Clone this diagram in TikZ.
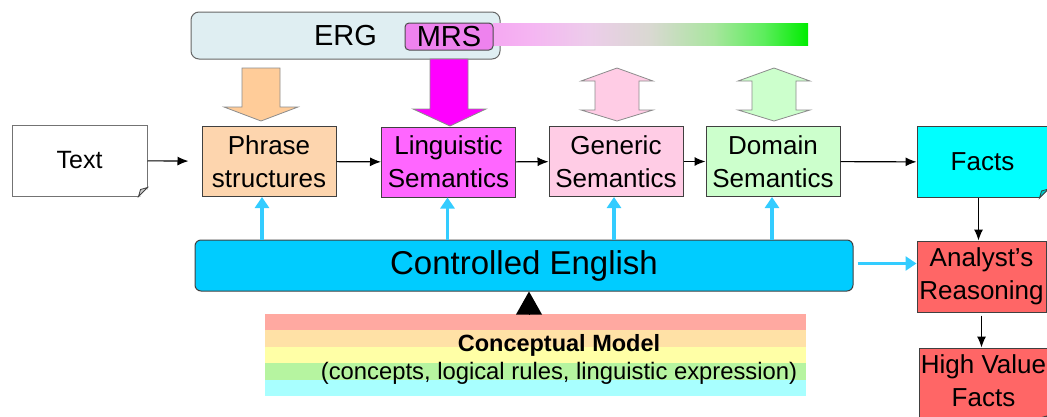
\documentclass[tikz,border=0pt]{standalone}
\usepackage{fontspec}
\setmainfont{Liberation Sans}
\usetikzlibrary{arrows.meta, positioning}

\definecolor{ergfill}{HTML}{DFEEF2}
\definecolor{mrsfill}{HTML}{EE82EE}
\definecolor{phrasefill}{HTML}{FDD5AE}
\definecolor{lingfill}{HTML}{FF66FF}
\definecolor{genfill}{HTML}{FFCCE5}
\definecolor{domfill}{HTML}{CCFFCC}
\definecolor{factfill}{HTML}{00FFFF}
\definecolor{redfill}{HTML}{FF6666}
\definecolor{cefill}{HTML}{00CCFF}
\definecolor{cearrow}{HTML}{33CCFF}
\definecolor{peach}{HTML}{FFCC99}
\definecolor{magenta}{HTML}{FF00FF}
\definecolor{border}{HTML}{404040}
\definecolor{bandred}{HTML}{FFA9A1}
\definecolor{bandorange}{HTML}{FFE1A6}
\definecolor{bandyellow}{HTML}{FFFFA6}
\definecolor{bandgreen}{HTML}{B6F4A0}
\definecolor{bandcyan}{HTML}{A8FFFF}

\pgfdeclarehorizontalshading{mrsbar}{100bp}{
  rgb(0bp)=(0.96,0.66,0.95); rgb(25bp)=(0.96,0.66,0.95);
  rgb(31bp)=(0.96,0.71,0.95); rgb(40bp)=(0.93,0.80,0.92);
  rgb(50bp)=(0.85,0.85,0.82); rgb(60bp)=(0.66,0.90,0.62);
  rgb(68bp)=(0.36,0.93,0.36); rgb(75bp)=(0,0.93,0);
  rgb(100bp)=(0,0.93,0)}

\tikzstyle{block} = [draw=border, line width=1pt, rectangle, minimum width=134pt, minimum height=70pt, align=center, inner sep=0pt, font=\fontsize{26}{33}\selectfont]
\tikzstyle{fatarrow} = [draw=black!45, line width=0.8pt, line join=miter]
\tikzstyle{cyanarrow} = [cearrow, line width=3.5pt, -{Triangle[width=14pt,length=11pt]}]

\begin{document}
\begin{tikzpicture}[x=1pt, y=-1pt, >={Latex[length=11pt,width=9pt]}, line width=1.1pt]
\useasboundingbox (0,0) rectangle (1047,416);
\clip (0,0) rectangle (1047,416);

% top: ERG / MRS
\node [draw=black!60, rounded corners=8pt, fill=ergfill, minimum width=309pt, minimum height=47pt, line width=1pt, font=\fontsize{29}{34}\selectfont] (erg) at (345.5,35.5) {ERG\hspace{68pt}};
\shade [shading=mrsbar] (493,23) rectangle (808,45);
\node [draw=black!70, rounded corners=4pt, fill=mrsfill, minimum width=88pt, minimum height=27pt, inner sep=0pt, line width=1pt, font=\fontsize{29}{34}\selectfont] (mrs) at (449,36.5) {MRS};

% block arrows
\filldraw [fatarrow, fill=peach] (242,68) -- (280,68) -- (280,107) -- (298,107) -- (261,121) -- (224,107) -- (242,107) -- cycle;
\filldraw [fatarrow, fill=magenta] (430,59) -- (468,59) -- (468,109) -- (486,109) -- (450,126) -- (413,109) -- (430,109) -- cycle;
\foreach \cx/\col in {617/genfill, 774/domfill}
  \filldraw [fatarrow, fill=\col] ({\cx-36},81) -- (\cx,68) -- ({\cx+36},81) -- ({\cx+22},81) -- ({\cx+22},110) -- ({\cx+36},110)
    -- (\cx,121) -- ({\cx-36},110) -- ({\cx-22},110) -- ({\cx-22},81) -- cycle;

% main row
\node [block, fill=white, draw=black!55, minimum width=135pt, minimum height=71pt, font=\fontsize{25}{30}\selectfont] (text) at (79.5,160.5) {Text};
\node [block, fill=phrasefill] (phrase) at (269,161.5) {Phrase\\structures};
\node [block, fill=lingfill] (ling) at (448.5,162) {Linguistic\\Semantics};
\node [block, fill=genfill] (gen) at (616,161.5) {Generic\\Semantics};
\node [block, fill=domfill] (dom) at (773,161.5) {Domain\\Semantics};
\node [block, fill=factfill, minimum width=131pt, minimum height=71pt] (facts) at (982.5,162) {Facts};

% right column
\node [block, fill=redfill, minimum width=129pt, minimum height=71pt] (analyst) at (981.5,276.5) {Analyst’s\\Reasoning};
\node [block, fill=redfill, minimum width=129pt, minimum height=76pt,
  label={[font=\fontsize{26}{33}\selectfont, align=center, yshift=5pt]center:High Value\\Facts}] (hvf) at (983.5,386) {};

% folded corners
\foreach \n/\c in {text/white, facts/factfill, hvf/redfill} {
  \fill [white] ([xshift=-9pt]\n.south east) -- ([xshift=1pt,yshift=-1pt]\n.south east) -- ([yshift=9pt]\n.south east) -- cycle;
  \filldraw [draw=border, line width=0.8pt, fill=\c!80!black] ([xshift=-9pt]\n.south east) -- ([xshift=-7pt,yshift=7pt]\n.south east) -- ([yshift=9pt]\n.south east) -- cycle;
}

% controlled english
\node [draw=border, line width=1pt, rounded corners=6pt, fill=cefill, minimum width=658pt, minimum height=51pt, font=\fontsize{33}{40}\selectfont] (ce) at (524,265.5) {Controlled English};

% conceptual model
\foreach \c [count=\i] in {bandred, bandorange, bandyellow, bandgreen, bandcyan}
  \fill [\c] (265,{314+(\i-1)*16.4}) rectangle (806,{314+\i*16.4});
\node [minimum width=541pt, minimum height=82pt] (model) at (535.5,355) {};
\node [align=center, font=\fontsize{23.8}{28}\selectfont] (concept) at (559,359) {{\fontsize{23.5}{28}\selectfont\bfseries Conceptual Model}\\(concepts, logical rules, linguistic expression)};

% connectors
\draw [->, shorten >=13pt] (text) -- (phrase);
\draw [->] (phrase) -- (ling);
\draw [->] (ling) -- (gen);
\draw [->] (gen) -- (dom);
\draw [->] (dom) -- (facts);
\draw [->] ([xshift=-4pt]facts.south) -- ([xshift=-4pt]facts.south |- analyst.north);
\draw [->, shorten <=3pt] (analyst.south) -- (analyst.south |- hvf.north);

\foreach \n/\dx in {phrase/-7, ling/-1, gen/-2, dom/-1}
  \draw [cyanarrow] ([xshift=\dx pt]ce.north -| \n.south) -- ([xshift=\dx pt]\n.south);
\draw [cyanarrow, shorten <=4pt] ([yshift=2pt]ce.east) -- ([yshift=2pt]ce.east -| analyst.west);

\draw [line width=0pt, -{Triangle[width=26pt,length=23pt]}] ([xshift=-6.5pt]model.north) -- ([xshift=-6.5pt]model.north |- ce.south);
\end{tikzpicture}
\end{document}
